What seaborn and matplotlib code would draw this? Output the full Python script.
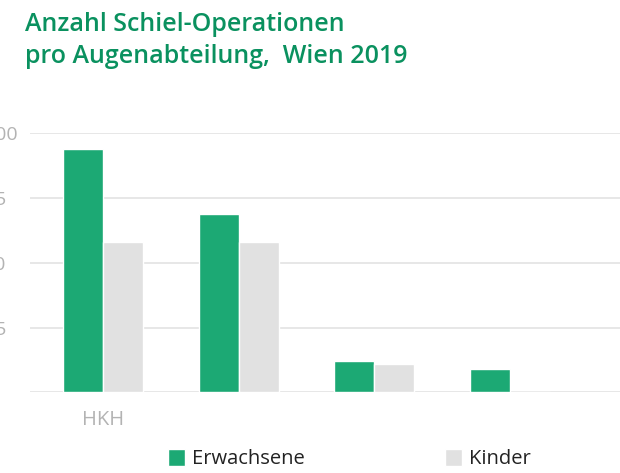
import matplotlib
matplotlib.use("Agg")
import matplotlib.pyplot as plt
import seaborn as sns
import pandas as pd

# ---- data ----
categories = ["HKH", "Abteilung 2", "Abteilung 3", "Abteilung 4"]
x_tick_labels = ["HKH", "", "", ""]
erwachsene = [94, 69, 12, 9]
kinder = [58, 58, 11, 0]
series_names = ["Erwachsene", "Kinder"]
y_ticks = [0, 25, 50, 75, 100]
y_tick_labels = ["", "25", "50", "75", "100"]
title_lines = ["Anzahl Schiel-Operationen", "pro Augenabteilung,  Wien 2019"]

GREEN = "#1ca974"
GRAY = "#e1e1e1"
TITLE_GREEN = "#0a915f"
TICK_GRAY = "#b3b3b3"

df = pd.DataFrame({
    "Abteilung": categories * 2,
    "Anzahl": erwachsene + kinder,
    "Gruppe": [series_names[0]] * len(categories) + [series_names[1]] * len(categories),
})

sns.set_theme(style="white")
plt.rcParams["font.family"] = ["Open Sans", "DejaVu Sans"]

W, H = 620, 473
fig = plt.figure(figsize=(W / 100, H / 100), dpi=100)
ax_left, ax_right = 30, 625
ax_top, ax_bottom = 133.5, 392.3
ax = fig.add_axes([ax_left / W, (H - ax_bottom) / H, (ax_right - ax_left) / W, (ax_bottom - ax_top) / H])

sns.barplot(data=df, x="Abteilung", y="Anzahl", hue="Gruppe",
            palette=[GREEN, GRAY], width=0.59, saturation=1, ax=ax, errorbar=None)

ax.set_ylim(0, 100)
ax.set_xlim(-0.538, 3.85)
ax.set_yticks(y_ticks)
ax.set_yticklabels(y_tick_labels)
ax.set_xticks(range(len(categories)))
ax.set_xticklabels(x_tick_labels)
ax.set_xlabel("")
ax.set_ylabel("")
for s in ax.spines.values():
    s.set_visible(False)
ax.yaxis.grid(True, color="#e0e0e0", linewidth=1.1)
ax.set_axisbelow(True)
ax.tick_params(axis="y", length=0, pad=33, labelsize=14, labelcolor=TICK_GRAY)
for lab in ax.get_yticklabels():
    lab.set_horizontalalignment("left")
ax.tick_params(axis="x", length=0, pad=13, labelsize=14.5, labelcolor=TICK_GRAY)

sns.move_legend(ax, "upper left", bbox_to_anchor=(168 / W, 1 - 449 / H),
                bbox_transform=fig.transFigure, ncol=2, frameon=False, title=None,
                fontsize=14.5, handlelength=0.84, handleheight=0.9,
                handletextpad=0.33, columnspacing=7.0, borderpad=0, borderaxespad=0)
leg = ax.get_legend()
for t in leg.get_texts():
    t.set_color("#222222")

fig.text(25 / W, 1 - 30.7 / H, title_lines[0], color=TITLE_GREEN, fontsize=18,
         fontweight="semibold", va="baseline", ha="left")
fig.text(25 / W, 1 - 63.3 / H, title_lines[1], color=TITLE_GREEN, fontsize=18,
         fontweight="semibold", va="baseline", ha="left")

fig.savefig("out.png", dpi=100)
